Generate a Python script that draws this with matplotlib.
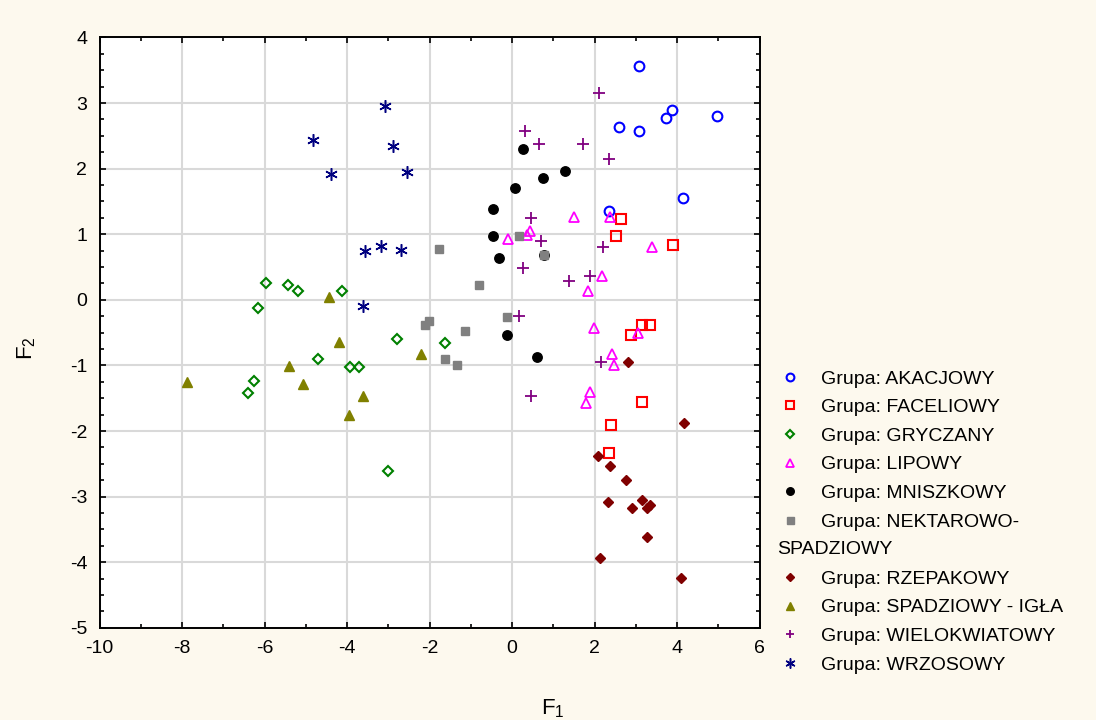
import matplotlib

matplotlib.use("Agg")
import matplotlib.pyplot as plt
from matplotlib.lines import Line2D
from matplotlib.ticker import MultipleLocator

plt.rcParams["font.family"] = ["Liberation Sans", "DejaVu Sans"]
plt.rcParams["mathtext.default"] = "regular"
plt.rcParams["axes.unicode_minus"] = False

# --- scores on the first two discriminant functions ---
akacjowy_x = [3.08, 3.87, 3.72, 4.98, 2.59, 3.08, 4.15, 2.35]
akacjowy_y = [3.57, 2.90, 2.77, 2.81, 2.63, 2.57, 1.56, 1.35]

faceliowy_x = [2.64, 2.51, 3.91, 3.16, 3.34, 2.89, 3.14, 2.40, 2.36]
faceliowy_y = [1.23, 0.98, 0.83, -0.39, -0.39, -0.54, -1.55, -1.91, -2.34]

gryczany_x = [-5.97, -5.44, -5.19, -4.12, -6.16, -2.80, -4.70, -3.92, -3.72, -6.27, -6.41, -3.00, -1.63]
gryczany_y = [0.25, 0.22, 0.13, 0.13, -0.12, -0.60, -0.90, -1.03, -1.03, -1.24, -1.42, -2.61, -0.66]

lipowy_x = [1.50, 2.37, 0.44, 0.35, -0.10, 3.40, 2.18, 1.85, 1.98, 3.06, 2.42, 2.48, 1.89, 1.79]
lipowy_y = [1.26, 1.26, 1.05, 0.99, 0.93, 0.81, 0.36, 0.14, -0.43, -0.50, -0.83, -1.00, -1.41, -1.57]

mniszkowy_x = [0.27, 1.28, 0.75, 0.07, -0.47, -0.47, -0.32, 0.78, -0.12, 0.61]
mniszkowy_y = [2.30, 1.96, 1.86, 1.71, 1.38, 0.98, 0.64, 0.68, -0.54, -0.87]

nektarowo_x = [-1.78, 0.17, 0.77, -0.81, -0.12, -2.12, -2.01, -1.15, -1.63, -1.34]
nektarowo_y = [0.77, 0.98, 0.68, 0.22, -0.26, -0.38, -0.33, -0.48, -0.90, -1.00]

rzepakowy_x = [2.81, 4.18, 2.09, 2.38, 2.77, 2.33, 3.16, 2.91, 3.26, 3.34, 3.26, 2.13, 4.09]
rzepakowy_y = [-0.95, -1.87, -2.38, -2.54, -2.75, -3.08, -3.05, -3.18, -3.18, -3.13, -3.61, -3.94, -4.24]

spadziowy_x = [-4.44, -4.19, -5.41, -7.89, -5.07, -3.61, -3.95, -2.20]
spadziowy_y = [0.05, -0.65, -1.01, -1.26, -1.28, -1.47, -1.75, -0.83]

wielokwiatowy_x = [2.11, 0.31, 0.65, 1.72, 2.35, 0.46, 0.70, 2.20, 0.27, 1.88, 1.38, 0.16, 2.15, 0.45]
wielokwiatowy_y = [3.15, 2.57, 2.38, 2.38, 2.14, 1.25, 0.89, 0.80, 0.49, 0.37, 0.28, -0.24, -0.94, -1.46]

wrzosowy_x = [-3.09, -4.84, -2.90, -4.40, -2.55, -3.57, -3.18, -2.70, -3.62]
wrzosowy_y = [2.96, 2.43, 2.35, 1.92, 1.95, 0.74, 0.82, 0.76, -0.09]

# (label, x, y, marker, colour, filled, size, edge width)
groups = [
    ("Grupa: AKACJOWY", akacjowy_x, akacjowy_y, "o", "#0000ff", False, 7.0, 1.5),
    ("Grupa: FACELIOWY", faceliowy_x, faceliowy_y, "s", "#ff0000", False, 6.5, 1.5),
    ("Grupa: GRYCZANY", gryczany_x, gryczany_y, "D", "#008000", False, 4.8, 1.5),
    ("Grupa: LIPOWY", lipowy_x, lipowy_y, "^", "#ff00ff", False, 7.0, 1.3),
    ("Grupa: MNISZKOWY", mniszkowy_x, mniszkowy_y, "o", "#000000", True, 6.8, 1.0),
    ("Grupa: NEKTAROWO-", nektarowo_x, nektarowo_y, "s", "#808080", True, 6.3, 1.0),
    ("Grupa: RZEPAKOWY", rzepakowy_x, rzepakowy_y, "D", "#800000", True, 5.2, 1.0),
    ("Grupa: SPADZIOWY - IGŁA", spadziowy_x, spadziowy_y, "^", "#808000", True, 7.5, 1.0),
    ("Grupa: WIELOKWIATOWY", wielokwiatowy_x, wielokwiatowy_y, "+", "#800080", True, 8.0, 1.3),
    ("Grupa: WRZOSOWY", wrzosowy_x, wrzosowy_y, (6, 2, 0), "#000080", True, 9.0, 1.1),
]

BG = "#fdf9ee"

fig = plt.figure(figsize=(10.96, 7.2), dpi=100, facecolor=BG)
ax = fig.add_axes([0.091, 0.128, 0.602, 0.820])
ax.set_facecolor("white")

handles = []
labels = []
for label, xs, ys, mk, col, filled, ms, mw in groups:
    ax.plot(xs, ys, ls="none", marker=mk, ms=ms, mew=mw, color=col,
            mfc=col if filled else "none", mec=col, zorder=3)
    handles.append(Line2D([], [], ls="none", marker=mk, ms=ms * 0.8, mew=mw, color=col,
                          mfc=col if filled else "none", mec=col))
    labels.append(label)
    if label.endswith("NEKTAROWO-"):
        # wrapped second line of the label gets its own (empty) row
        handles.append(Line2D([], [], ls="none", marker=None))
        labels.append(" ")

ax.set_xlim(-10, 6)
ax.set_ylim(-5, 4)
ax.xaxis.set_major_locator(MultipleLocator(2))
ax.xaxis.set_minor_locator(MultipleLocator(1))
ax.yaxis.set_major_locator(MultipleLocator(1))
ax.yaxis.set_minor_locator(MultipleLocator(0.25))
ax.grid(True, which="major", color="#d9d9d9", lw=1.5, zorder=0)
ax.set_axisbelow(True)
ax.tick_params(which="both", direction="in", top=True, right=True, width=1.2,
               labelsize=14, pad=9, color="black")
ax.tick_params(which="major", length=4)
ax.tick_params(which="minor", length=3)
for s in ax.spines.values():
    s.set_linewidth(1.4)
    s.set_color("black")

ax.set_xlabel("$F_1$", fontsize=16)
ax.set_ylabel("$F_2$", fontsize=16)
ax.xaxis.set_label_coords(0.687, -0.117)
ax.yaxis.set_label_coords(-0.094, 0.474)

fig.legend(handles, labels, loc="upper left", bbox_to_anchor=(0.7117, 0.486),
           frameon=False, fontsize=14, handlelength=1.0, handletextpad=1.1,
           labelspacing=0.565, borderpad=0, borderaxespad=0)
fig.text(777 / 1096, 1 - 549 / 720, "SPADZIOWY", fontsize=14, ha="left", va="center")

fig.savefig("out.png", dpi=100, facecolor=BG)
